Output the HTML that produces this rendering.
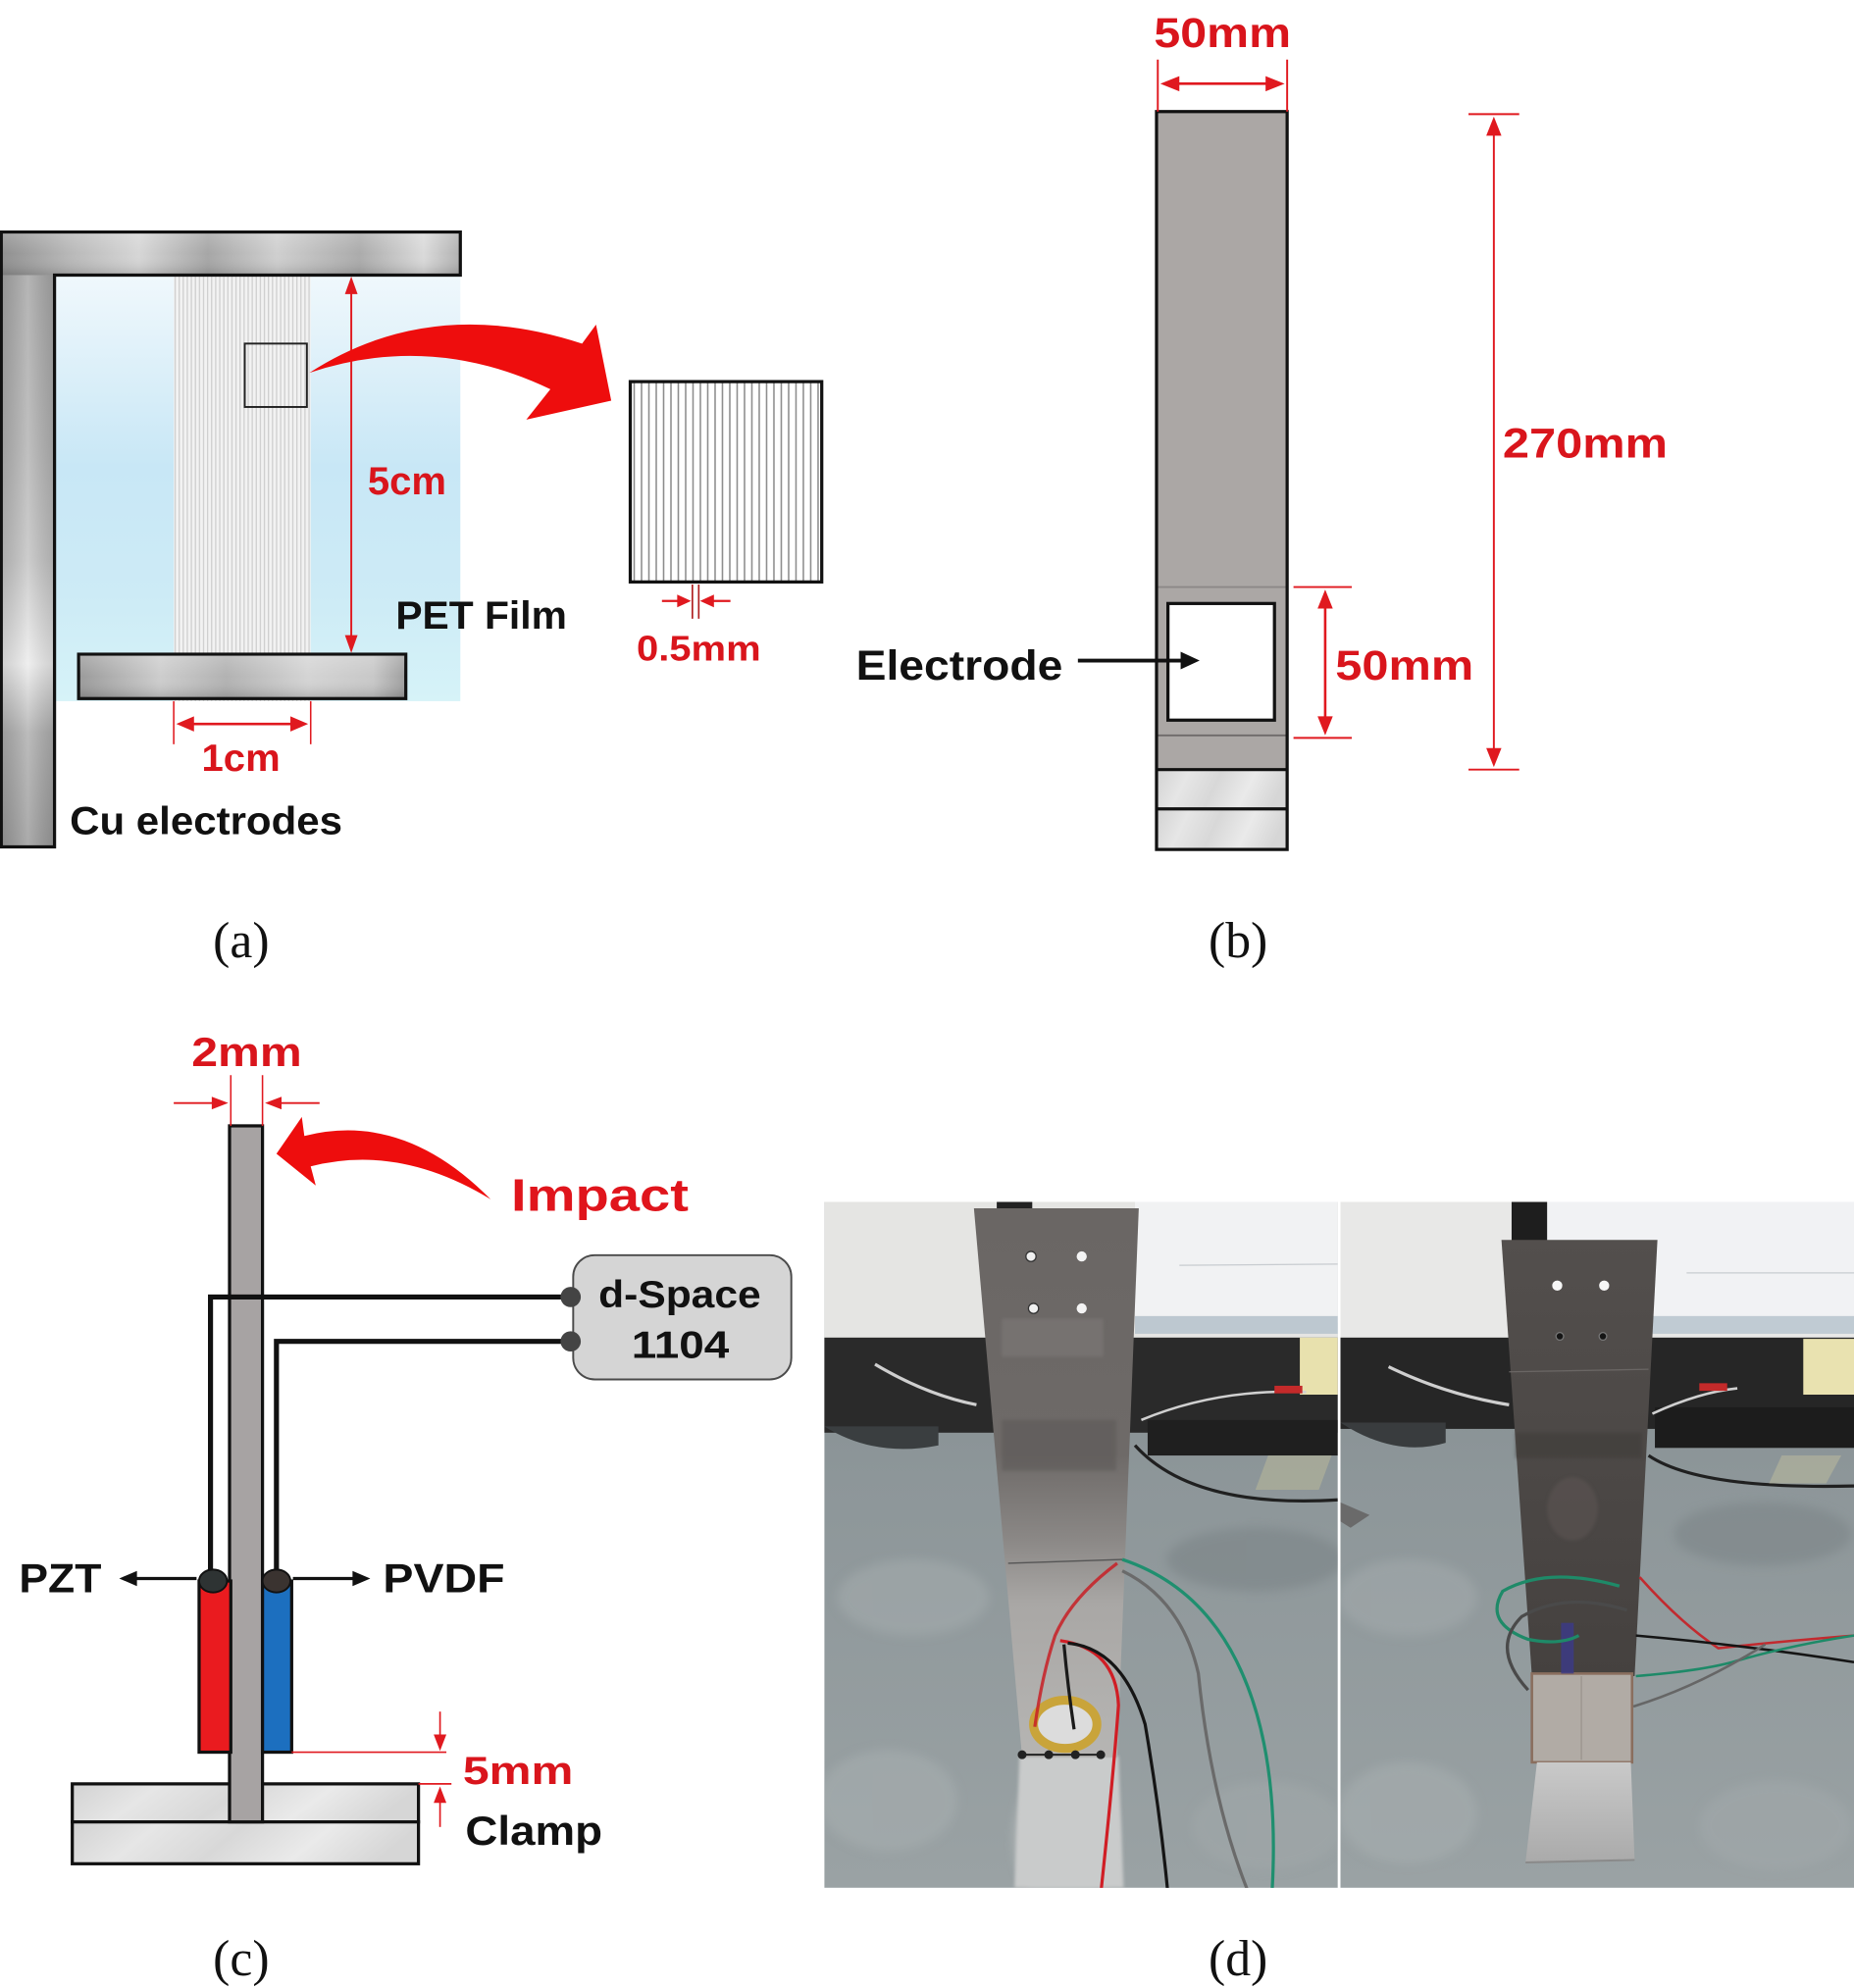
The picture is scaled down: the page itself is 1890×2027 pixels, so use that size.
<!DOCTYPE html>
<html>
<head>
<meta charset="utf-8">
<style>
  html,body{margin:0;padding:0;background:#fff;}
  svg{display:block;}
  .b{font-family:"Liberation Sans",Arial,sans-serif;font-weight:bold;}
  .t{font-family:"Liberation Serif","Times New Roman",serif;}
</style>
</head>
<body>
<svg width="1890" height="2027" viewBox="0 0 1462 1568" preserveAspectRatio="none" xmlns="http://www.w3.org/2000/svg">
<defs>
  <linearGradient id="cuTop" x1="0" y1="0" x2="1" y2="0">
    <stop offset="0" stop-color="#8f8f8f"/>
    <stop offset="0.15" stop-color="#b8b8b8"/>
    <stop offset="0.3" stop-color="#d6d6d6"/>
    <stop offset="0.45" stop-color="#a6a6a6"/>
    <stop offset="0.6" stop-color="#cfcfcf"/>
    <stop offset="0.78" stop-color="#ababab"/>
    <stop offset="0.92" stop-color="#dadada"/>
    <stop offset="1" stop-color="#b0b0b0"/>
  </linearGradient>
  <linearGradient id="cuV" x1="0" y1="0" x2="0" y2="1">
    <stop offset="0" stop-color="#a8a8a8"/>
    <stop offset="0.3" stop-color="#b4b4b4"/>
    <stop offset="0.5" stop-color="#c4c4c4"/>
    <stop offset="0.68" stop-color="#ececec"/>
    <stop offset="0.8" stop-color="#b0b0b0"/>
    <stop offset="1" stop-color="#9c9c9c"/>
  </linearGradient>
  <linearGradient id="cuVx" x1="0" y1="0" x2="1" y2="0">
    <stop offset="0" stop-color="#000" stop-opacity="0.12"/>
    <stop offset="0.5" stop-color="#fff" stop-opacity="0.15"/>
    <stop offset="1" stop-color="#000" stop-opacity="0.12"/>
  </linearGradient>
  <linearGradient id="cuBot" x1="0" y1="0" x2="1" y2="0">
    <stop offset="0" stop-color="#9a9a9a"/>
    <stop offset="0.25" stop-color="#cdcdcd"/>
    <stop offset="0.45" stop-color="#b2b2b2"/>
    <stop offset="0.7" stop-color="#d4d4d4"/>
    <stop offset="0.9" stop-color="#c8c8c8"/>
    <stop offset="1" stop-color="#9e9e9e"/>
  </linearGradient>
  <linearGradient id="barShade" x1="0" y1="0" x2="0" y2="1">
    <stop offset="0" stop-color="#fff" stop-opacity="0.2"/>
    <stop offset="0.5" stop-color="#fff" stop-opacity="0"/>
    <stop offset="1" stop-color="#000" stop-opacity="0.15"/>
  </linearGradient>
  <linearGradient id="film" x1="0" y1="0" x2="0" y2="1">
    <stop offset="0" stop-color="#f0f8fc"/>
    <stop offset="0.45" stop-color="#c8e7f6"/>
    <stop offset="0.75" stop-color="#cdebf6"/>
    <stop offset="1" stop-color="#d6f3f8"/>
  </linearGradient>
  <pattern id="str" width="3.2" height="10" patternUnits="userSpaceOnUse">
    <rect width="3.2" height="10" fill="#f2f2f2"/>
    <rect width="1" height="10" fill="#cfcfcf"/>
  </pattern>
  <pattern id="zstr" x="497" width="5.8" height="10" patternUnits="userSpaceOnUse">
    <rect width="5.8" height="10" fill="#ffffff"/>
    <rect x="2.5" width="1.2" height="10" fill="#8c8c8c"/>
  </pattern>
  <linearGradient id="marble" x1="0" y1="0" x2="1" y2="0.15">
    <stop offset="0" stop-color="#d2d2d2"/>
    <stop offset="0.25" stop-color="#e6e6e6"/>
    <stop offset="0.5" stop-color="#d8d8d8"/>
    <stop offset="0.75" stop-color="#eaeaea"/>
    <stop offset="1" stop-color="#d6d6d6"/>
  </linearGradient>
  <linearGradient id="beamL" x1="0" y1="0" x2="0" y2="1">
    <stop offset="0" stop-color="#6a6664"/>
    <stop offset="0.45" stop-color="#6e6a68"/>
    <stop offset="0.6" stop-color="#8a8785"/>
    <stop offset="0.72" stop-color="#a9a7a5"/>
    <stop offset="1" stop-color="#b6b5b3"/>
  </linearGradient>
  <linearGradient id="beamR" x1="0" y1="0" x2="0" y2="1">
    <stop offset="0" stop-color="#534f4d"/>
    <stop offset="0.5" stop-color="#4c4846"/>
    <stop offset="1" stop-color="#45413f"/>
  </linearGradient>
  <linearGradient id="floor" x1="0" y1="0" x2="0" y2="1">
    <stop offset="0" stop-color="#7f888b"/>
    <stop offset="0.4" stop-color="#8d9699"/>
    <stop offset="1" stop-color="#9aa2a4"/>
  </linearGradient>
  <linearGradient id="plate" x1="0" y1="0" x2="0" y2="1">
    <stop offset="0" stop-color="#c9c9c9"/>
    <stop offset="1" stop-color="#aaaaaa"/>
  </linearGradient>
  <filter id="soft" x="-5%" y="-5%" width="110%" height="110%"><feGaussianBlur stdDeviation="1.2"/></filter>
  <filter id="soft3" x="-20%" y="-20%" width="140%" height="140%"><feGaussianBlur stdDeviation="4"/></filter>
  <clipPath id="clipL"><rect x="650" y="948" width="405" height="541"/></clipPath>
  <clipPath id="clipR"><rect x="1057" y="948" width="405" height="541"/></clipPath>
</defs>

<!-- ================= PANEL (a) ================= -->
<rect x="43" y="217" width="320" height="336" fill="url(#film)"/>
<rect x="137" y="217" width="108" height="336" fill="url(#str)"/>
<rect x="193" y="271" width="49" height="50" fill="none" stroke="#222" stroke-width="1.5"/>
<rect x="1" y="183" width="362" height="34" fill="url(#cuTop)"/>
<rect x="1" y="183" width="362" height="34" fill="url(#barShade)"/>
<rect x="1" y="217" width="42" height="451" fill="url(#cuV)"/>
<rect x="1" y="217" width="42" height="451" fill="url(#cuVx)"/>
<path d="M1 183 L363 183 L363 217 L43 217 L43 668 L1 668 Z" fill="none" stroke="#111" stroke-width="2.5"/>
<rect x="62" y="516" width="258" height="35" fill="url(#cuBot)" stroke="#111" stroke-width="2.5"/>
<rect x="63" y="517" width="256" height="33" fill="url(#barShade)"/>
<line x1="277" y1="226" x2="277" y2="507" stroke="#e0191f" stroke-width="1.5"/>
<polygon points="277,218 272,232 282,232" fill="#e0191f"/>
<polygon points="277,515 272,501 282,501" fill="#e0191f"/>
<text x="290" y="390" class="b" font-size="31" fill="#d9151c" textLength="62" lengthAdjust="spacingAndGlyphs">5cm</text>
<text x="312" y="496" class="b" font-size="31" fill="#111" textLength="135" lengthAdjust="spacingAndGlyphs">PET  Film</text>
<line x1="137" y1="553" x2="137" y2="587" stroke="#e0191f" stroke-width="1.2"/>
<line x1="245" y1="553" x2="245" y2="587" stroke="#e0191f" stroke-width="1.2"/>
<line x1="148" y1="571" x2="234" y2="571" stroke="#e0191f" stroke-width="2"/>
<polygon points="139,571 153,565 153,577" fill="#e0191f"/>
<polygon points="243,571 229,565 229,577" fill="#e0191f"/>
<text x="159" y="608" class="b" font-size="30" fill="#d9151c" textLength="62" lengthAdjust="spacingAndGlyphs">1cm</text>
<text x="55" y="658" class="b" font-size="31" fill="#111" textLength="215" lengthAdjust="spacingAndGlyphs">Cu  electrodes</text>
<path d="M244 294 Q340 232 459 271 L470 256 L482 316 L415 331 L434 307 Q340 262 244 294 Z" fill="#ee0d0d"/>
<rect x="497" y="301" width="151" height="158" fill="url(#zstr)" stroke="#111" stroke-width="2.5"/>
<line x1="546" y1="461" x2="546" y2="488" stroke="#b02020" stroke-width="1.3"/>
<line x1="551" y1="461" x2="551" y2="488" stroke="#b02020" stroke-width="1.3"/>
<line x1="522" y1="474" x2="538" y2="474" stroke="#e0191f" stroke-width="1.8"/>
<polygon points="545,474 534,469 534,479" fill="#e0191f"/>
<line x1="559" y1="474" x2="576" y2="474" stroke="#e0191f" stroke-width="1.8"/>
<polygon points="552,474 563,469 563,479" fill="#e0191f"/>
<text x="502" y="521" class="b" font-size="28" fill="#d9151c" textLength="98" lengthAdjust="spacingAndGlyphs">0.5mm</text>

<text x="168" y="755" class="t" font-size="40" fill="#111">(a)</text>

<!-- ================= PANEL (b) ================= -->
<rect x="912" y="88" width="103" height="582" fill="#aba7a5"/>
<line x1="913" y1="463" x2="1014" y2="463" stroke="#8c8888" stroke-width="1.5"/>
<line x1="913" y1="580" x2="1014" y2="580" stroke="#6e6a6a" stroke-width="1.5"/>
<rect x="921" y="476" width="84" height="92" fill="#fff" stroke="#111" stroke-width="2.5"/>
<rect x="912" y="607" width="103" height="31" fill="url(#marble)"/>
<rect x="912" y="638" width="103" height="32" fill="url(#marble)"/>
<line x1="912" y1="607" x2="1015" y2="607" stroke="#111" stroke-width="2.5"/>
<line x1="912" y1="638" x2="1015" y2="638" stroke="#111" stroke-width="2.5"/>
<rect x="912" y="88" width="103" height="582" fill="none" stroke="#111" stroke-width="2.5"/>
<line x1="913" y1="47" x2="913" y2="88" stroke="#e0191f" stroke-width="1.5"/>
<line x1="1015" y1="47" x2="1015" y2="88" stroke="#e0191f" stroke-width="1.5"/>
<line x1="924" y1="66" x2="1004" y2="66" stroke="#e0191f" stroke-width="2"/>
<polygon points="915,66 930,60 930,72" fill="#e0191f"/>
<polygon points="1013,66 998,60 998,72" fill="#e0191f"/>
<text x="910" y="37" class="b" font-size="33" fill="#d9151c" textLength="108" lengthAdjust="spacingAndGlyphs">50mm</text>
<line x1="1158" y1="90" x2="1198" y2="90" stroke="#e0191f" stroke-width="1.5"/>
<line x1="1158" y1="607" x2="1198" y2="607" stroke="#e0191f" stroke-width="1.5"/>
<line x1="1178" y1="100" x2="1178" y2="597" stroke="#e0191f" stroke-width="1.5"/>
<polygon points="1178,92 1172,107 1184,107" fill="#e0191f"/>
<polygon points="1178,605 1172,590 1184,590" fill="#e0191f"/>
<text x="1185" y="361" class="b" font-size="33" fill="#d9151c" textLength="130" lengthAdjust="spacingAndGlyphs">270mm</text>
<line x1="1020" y1="463" x2="1066" y2="463" stroke="#e0191f" stroke-width="1.5"/>
<line x1="1020" y1="582" x2="1066" y2="582" stroke="#e0191f" stroke-width="1.5"/>
<line x1="1045" y1="474" x2="1045" y2="571" stroke="#e0191f" stroke-width="2"/>
<polygon points="1045,465 1039,480 1051,480" fill="#e0191f"/>
<polygon points="1045,580 1039,565 1051,565" fill="#e0191f"/>
<text x="1053" y="536" class="b" font-size="33" fill="#d9151c" textLength="109" lengthAdjust="spacingAndGlyphs">50mm</text>
<text x="675" y="536" class="b" font-size="33" fill="#111" textLength="163" lengthAdjust="spacingAndGlyphs">Electrode</text>
<line x1="850" y1="521" x2="934" y2="521" stroke="#111" stroke-width="3"/>
<polygon points="946,521 931,514 931,528" fill="#111"/>

<text x="953" y="755" class="t" font-size="40" fill="#111">(b)</text>

<!-- ================= PANEL (c) ================= -->
<rect x="57" y="1407" width="273" height="30" fill="url(#marble)" stroke="#111" stroke-width="2.5"/>
<rect x="57" y="1437" width="273" height="33" fill="url(#marble)" stroke="#111" stroke-width="2.5"/>
<rect x="181" y="888" width="26" height="549" fill="#a7a3a3" stroke="#111" stroke-width="2.5"/>
<line x1="182" y1="848" x2="182" y2="888" stroke="#e0191f" stroke-width="1.2"/>
<line x1="207" y1="848" x2="207" y2="888" stroke="#e0191f" stroke-width="1.2"/>
<line x1="137" y1="870" x2="172" y2="870" stroke="#e0191f" stroke-width="1.5"/>
<polygon points="180,870 167,865 167,875" fill="#e0191f"/>
<line x1="217" y1="870" x2="252" y2="870" stroke="#e0191f" stroke-width="1.5"/>
<polygon points="209,870 222,865 222,875" fill="#e0191f"/>
<text x="151" y="841" class="b" font-size="32" fill="#d9151c" textLength="87" lengthAdjust="spacingAndGlyphs">2mm</text>
<path d="M387 946 Q318 876 240 896 L238 881 L218 910 L249 935 L245 920 Q315 902 387 946 Z" fill="#ee0d0d"/>
<text x="403" y="955" class="b" font-size="36" fill="#e0151c" textLength="140" lengthAdjust="spacingAndGlyphs">Impact</text>
<rect x="452" y="990" width="172" height="98" rx="17" fill="#d5d5d5" stroke="#4a4a4a" stroke-width="1.5"/>
<text x="472" y="1031" class="b" font-size="30" fill="#111" textLength="128" lengthAdjust="spacingAndGlyphs">d-Space</text>
<text x="498" y="1071" class="b" font-size="30" fill="#111" textLength="77" lengthAdjust="spacingAndGlyphs">1104</text>
<polyline points="450,1023 166,1023 166,1245" fill="none" stroke="#111" stroke-width="4"/>
<polyline points="450,1058 218,1058 218,1245" fill="none" stroke="#111" stroke-width="4"/>
<circle cx="450" cy="1023" r="8" fill="#444"/>
<circle cx="450" cy="1058" r="8" fill="#444"/>
<rect x="157" y="1247" width="25" height="135" fill="#ea1b1f" stroke="#111" stroke-width="2.5"/>
<rect x="207" y="1247" width="23" height="135" fill="#1c6fbf" stroke="#111" stroke-width="2.5"/>
<ellipse cx="168" cy="1247" rx="11" ry="9" fill="#2e3333" stroke="#111" stroke-width="1.5"/>
<ellipse cx="218" cy="1247" rx="11" ry="9" fill="#3a3330" stroke="#111" stroke-width="1.5"/>
<line x1="155" y1="1245" x2="104" y2="1245" stroke="#111" stroke-width="2.5"/>
<polygon points="94,1245 108,1239 108,1251" fill="#111"/>
<line x1="231" y1="1245" x2="282" y2="1245" stroke="#111" stroke-width="2.5"/>
<polygon points="292,1245 278,1239 278,1251" fill="#111"/>
<text x="15" y="1256" class="b" font-size="32" fill="#111" textLength="65" lengthAdjust="spacingAndGlyphs">PZT</text>
<text x="302" y="1256" class="b" font-size="32" fill="#111" textLength="96" lengthAdjust="spacingAndGlyphs">PVDF</text>
<line x1="230" y1="1382" x2="352" y2="1382" stroke="#e0191f" stroke-width="1.3"/>
<line x1="330" y1="1407" x2="356" y2="1407" stroke="#e0191f" stroke-width="1.3"/>
<line x1="347" y1="1350" x2="347" y2="1372" stroke="#e0191f" stroke-width="1.3"/>
<polygon points="347,1381 342,1368 352,1368" fill="#e0191f"/>
<line x1="347" y1="1418" x2="347" y2="1441" stroke="#e0191f" stroke-width="1.3"/>
<polygon points="347,1409 342,1422 352,1422" fill="#e0191f"/>
<text x="365" y="1407" class="b" font-size="31" fill="#d9151c" textLength="87" lengthAdjust="spacingAndGlyphs">5mm</text>
<text x="367" y="1455" class="b" font-size="32" fill="#111" textLength="108" lengthAdjust="spacingAndGlyphs">Clamp</text>

<text x="168" y="1558" class="t" font-size="40" fill="#111">(c)</text>

<!-- ================= PANEL (d) LEFT PHOTO ================= -->
<g clip-path="url(#clipL)">
  <rect x="650" y="948" width="405" height="541" fill="url(#floor)"/>
  <g filter="url(#soft3)" opacity="0.6">
    <ellipse cx="720" cy="1260" rx="60" ry="30" fill="#a3aaac"/>
    <ellipse cx="990" cy="1230" rx="70" ry="25" fill="#7c8487"/>
    <ellipse cx="700" cy="1420" rx="55" ry="40" fill="#a6adaf"/>
    <ellipse cx="1000" cy="1440" rx="60" ry="35" fill="#a0a7a9"/>
    <ellipse cx="840" cy="1450" rx="40" ry="60" fill="#c3c6c6"/>
  </g>
  <rect x="650" y="948" width="405" height="110" fill="#e5e5e3"/>
  <rect x="895" y="948" width="160" height="95" fill="#f1f2f3"/>
  <line x1="930" y1="998" x2="1055" y2="997" stroke="#c8ccd0" stroke-width="1"/>
  <rect x="895" y="1038" width="160" height="14" fill="#bdc8d0"/>
  <rect x="650" y="1055" width="405" height="75" fill="#2a2a2a"/>
  <path d="M650 1125 Q690 1150 740 1140 L740 1125 Z" fill="#3a3e40"/>
  <rect x="905" y="1120" width="150" height="28" fill="#1f1f1f"/>
  <rect x="1025" y="1055" width="30" height="45" fill="#e8e1ae"/>
  <path d="M690 1076 Q730 1100 770 1108" stroke="#cfcfcf" stroke-width="2.5" fill="none"/>
  <path d="M900 1120 Q960 1095 1030 1098" stroke="#d0d0d0" stroke-width="2" fill="none"/>
  <rect x="1005" y="1093" width="22" height="6" fill="#c42a2a"/>
  <path d="M895 1140 Q940 1190 1055 1183" stroke="#202020" stroke-width="2.5" fill="none"/>
  <path d="M1000 1148 L1050 1148 L1040 1175 L990 1175 Z" fill="#b6b59a" opacity="0.6"/>
  <path d="M804 1385 L882 1385 L886 1489 L800 1489 Z" fill="#c9cbcb" filter="url(#soft)"/>
  <rect x="786" y="945" width="28" height="9" fill="#222"/>
  <polygon points="768,953 898,953 881,1386 806,1386" fill="url(#beamL)"/>
  <g filter="url(#soft)" opacity="0.5">
    <rect x="790" y="1120" width="90" height="40" fill="#5a5654"/>
    <rect x="790" y="1040" width="80" height="30" fill="#807c7a"/>
  </g>
  <line x1="795" y1="1233" x2="885" y2="1230" stroke="#555" stroke-width="1"/>
  <circle cx="813" cy="991" r="4" fill="#f0f0f0" stroke="#333" stroke-width="1"/>
  <circle cx="853" cy="991" r="4" fill="#f4f4f4"/>
  <circle cx="815" cy="1032" r="4" fill="#f0f0f0" stroke="#333" stroke-width="1"/>
  <circle cx="853" cy="1032" r="4" fill="#f4f4f4"/>
  <ellipse cx="840" cy="1360" rx="25" ry="19" fill="#dcdcdc" stroke="#c9a43a" stroke-width="7"/>
  <line x1="806" y1="1384" x2="868" y2="1384" stroke="#222" stroke-width="1.5"/>
  <circle cx="806" cy="1384" r="3.5" fill="#222"/>
  <circle cx="827" cy="1384" r="3.5" fill="#222"/>
  <circle cx="848" cy="1384" r="3.5" fill="#222"/>
  <circle cx="868" cy="1384" r="3.5" fill="#222"/>
  <path d="M881 1233 Q845 1260 832 1290 Q822 1320 816 1362" stroke="#c81f25" stroke-width="2.5" fill="none" opacity="0.85"/>
  <path d="M836 1294 Q880 1300 882 1345 Q878 1400 868 1494" stroke="#d01e25" stroke-width="2.5" fill="none"/>
  <path d="M839 1297 Q842 1330 847 1364" stroke="#1a1a1a" stroke-width="2.5" fill="none"/>
  <path d="M842 1296 Q885 1300 903 1360 Q915 1430 921 1494" stroke="#151515" stroke-width="2.5" fill="none"/>
  <path d="M885 1239 Q932 1262 945 1320 Q955 1420 985 1494" stroke="#6a6a6a" stroke-width="2.5" fill="none"/>
  <path d="M885 1230 Q945 1250 975 1310 Q1010 1380 1003 1494" stroke="#1f8f6f" stroke-width="2.5" fill="none"/>
</g>

<!-- ================= PANEL (d) RIGHT PHOTO ================= -->
<g clip-path="url(#clipR)">
  <rect x="1057" y="948" width="405" height="541" fill="url(#floor)"/>
  <g filter="url(#soft3)" opacity="0.6">
    <ellipse cx="1110" cy="1260" rx="55" ry="30" fill="#a2a9ab"/>
    <ellipse cx="1390" cy="1210" rx="70" ry="25" fill="#7d8588"/>
    <ellipse cx="1110" cy="1430" rx="55" ry="40" fill="#a6adaf"/>
    <ellipse cx="1400" cy="1440" rx="60" ry="35" fill="#a1a8aa"/>
  </g>
  <rect x="1057" y="948" width="405" height="110" fill="#e8e8e7"/>
  <rect x="1220" y="948" width="242" height="95" fill="#f1f2f4"/>
  <line x1="1330" y1="1004" x2="1462" y2="1004" stroke="#c8ccd0" stroke-width="1"/>
  <rect x="1220" y="1038" width="242" height="14" fill="#c0cbd3"/>
  <rect x="1192" y="948" width="28" height="110" fill="#1e1e1e"/>
  <rect x="1057" y="1055" width="405" height="72" fill="#262626"/>
  <path d="M1057 1122 Q1100 1150 1140 1138 L1140 1122 Z" fill="#393c3e"/>
  <rect x="1305" y="1110" width="157" height="32" fill="#1c1c1c"/>
  <rect x="1422" y="1056" width="40" height="44" fill="#e9e2b0"/>
  <path d="M1095 1078 Q1140 1100 1190 1108" stroke="#cfcfcf" stroke-width="2.5" fill="none"/>
  <path d="M1303 1115 Q1340 1098 1370 1095" stroke="#d0d0d0" stroke-width="2" fill="none"/>
  <rect x="1340" y="1091" width="22" height="6" fill="#c42a2a"/>
  <path d="M1300 1148 Q1340 1175 1462 1172" stroke="#202020" stroke-width="2.5" fill="none"/>
  <path d="M1405 1148 L1452 1148 L1440 1170 L1395 1170 Z" fill="#b8b79c" opacity="0.6"/>
  <path d="M1057 1185 L1080 1195 L1065 1205 L1057 1200 Z" fill="#6a6a6a"/>
  <polygon points="1184,978 1307,978 1289,1322 1208,1322" fill="url(#beamR)"/>
  <g filter="url(#soft)" opacity="0.5">
    <ellipse cx="1240" cy="1190" rx="20" ry="25" fill="#5e5754"/>
    <rect x="1195" y="1130" width="100" height="20" fill="#3e3a38"/>
  </g>
  <line x1="1190" y1="1082" x2="1300" y2="1080" stroke="#6a6664" stroke-width="1"/>
  <circle cx="1228" cy="1014" r="4" fill="#f6f6f6"/>
  <circle cx="1265" cy="1014" r="4" fill="#f6f6f6"/>
  <circle cx="1230" cy="1054" r="3" fill="#151515" stroke="#777" stroke-width="1"/>
  <circle cx="1264" cy="1054" r="3" fill="#151515" stroke="#777" stroke-width="1"/>
  <rect x="1208" y="1320" width="79" height="70" fill="#b1aba5" stroke="#8a6e5e" stroke-width="2"/>
  <line x1="1247" y1="1322" x2="1247" y2="1388" stroke="#9a948e" stroke-width="1"/>
  <rect x="1231" y="1280" width="10" height="40" fill="#3b3a8a" opacity="0.8"/>
  <polygon points="1212,1390 1286,1390 1289,1467 1203,1469" fill="url(#plate)"/>
  <line x1="1203" y1="1469" x2="1289" y2="1467" stroke="#8a8a8a" stroke-width="1.5"/>
  <path d="M1277 1251 Q1220 1235 1185 1255 Q1170 1280 1205 1293 Q1230 1298 1245 1290" stroke="#1e8a68" stroke-width="2.5" fill="none"/>
  <path d="M1283 1270 Q1235 1255 1200 1275 Q1175 1300 1205 1333" stroke="#4a4a4a" stroke-width="2.5" fill="none"/>
  <path d="M1293 1244 Q1325 1280 1355 1300 Q1400 1295 1462 1290" stroke="#c22a2f" stroke-width="2" fill="none"/>
  <path d="M1290 1290 Q1380 1298 1462 1311" stroke="#151515" stroke-width="2" fill="none"/>
  <path d="M1290 1322 Q1340 1318 1366 1311 Q1410 1298 1462 1290" stroke="#1e8a68" stroke-width="2" fill="none"/>
  <path d="M1288 1346 Q1340 1330 1392 1297" stroke="#666" stroke-width="2" fill="none"/>
</g>
<rect x="1055" y="948" width="2" height="541" fill="#fff"/>

<text x="953" y="1558" class="t" font-size="40" fill="#111">(d)</text>
</svg>
</body>
</html>
